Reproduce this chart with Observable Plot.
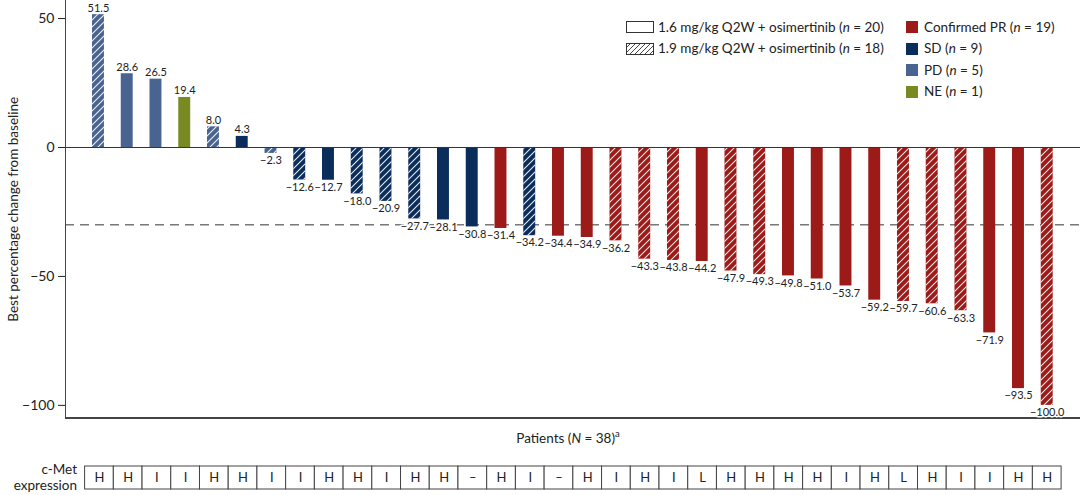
<!DOCTYPE html>
<html><head><meta charset="utf-8">
<script src="https://cdn.jsdelivr.net/npm/d3@7"></script>
<script src="https://cdn.jsdelivr.net/npm/@observablehq/plot@0.6"></script>
<style>
body{margin:0;background:#fff;font-family:Lato,sans-serif;color:#222}
#wrap{position:relative;width:1080px;height:495px;overflow:hidden;background:#fff}
#main{position:absolute;left:0;top:0;width:1080px}
#main svg{display:block}
#table{position:absolute;left:0;top:460.5px;width:1080px}
#table svg{display:block}
#legend{position:absolute;left:0;top:0;width:0;height:0}
.lg{position:absolute;font-size:13.5px;white-space:nowrap;line-height:16px}
.sw{position:absolute;width:12px;height:12px}
#xlab{position:absolute;top:428px;left:568px;transform:translateX(-50%);font-size:13.5px;white-space:nowrap}
#cmet{position:absolute;right:1003px;top:462px;font-size:13.5px;text-align:right;line-height:15.5px;white-space:nowrap}
</style></head><body>
<div id="wrap">
  <div id="main"></div>
  <div id="table"></div>
  <div id="xlab">Patients (<i>N</i> = 38)<sup style="font-size:9.5px">a</sup></div>
  <div id="cmet">c-Met<br>expression</div>
  <div id="legend"></div>
</div>
<script>
// ---- data ----
const values = [51.5, 28.6, 26.5, 19.4, 8.0, 4.3, -2.3, -12.6, -12.7, -18.0, -20.9, -27.7, -28.1, -30.8, -31.4, -34.2, -34.4, -34.9, -36.2, -43.3, -43.8, -44.2, -47.9, -49.3, -49.8, -51.0, -53.7, -59.2, -59.7, -60.6, -63.3, -71.9, -93.5, -100.0];
const responses = ["PD","PD","PD","NE","PD","SD","PD","SD","SD","SD","SD","SD","SD","SD","PR","SD","PR","PR","PR","PR","PR","PR","PR","PR","PR","PR","PR","PR","PR","PR","PR","PR","PR","PR"];
const doses = ["1.9","1.6","1.6","1.6","1.9","1.6","1.9","1.9","1.6","1.9","1.9","1.9","1.6","1.6","1.6","1.9","1.6","1.6","1.9","1.9","1.9","1.6","1.9","1.9","1.6","1.6","1.6","1.6","1.9","1.9","1.9","1.6","1.6","1.9"];
const cMet = ["H","H","I","I","H","H","I","I","H","H","I","H","H","–","H","I","–","H","I","H","I","L","H","H","H","H","I","H","L","H","I","I","H","H"];
const responseKeys = ["PR","SD","PD","NE"];
const responseLabels = ["Confirmed PR","SD","PD","NE"];
const responseCounts = [19, 9, 5, 1];
const responseColors = ["#9c1a17","#0b2d5c","#4a6491","#7a8a22"];
const doseLabels = ["1.6 mg/kg Q2W + osimertinib","1.9 mg/kg Q2W + osimertinib"];
const doseCounts = [20, 18];
const yTicks = [50, 0, -50, -100];
const yDomain = [-104.9, 57];
const threshold = -30;

const patients = d3.range(values.length);
const data = patients.map(i => ({id: i, value: values[i], response: responses[i], dose: doses[i], cmet: cMet[i]}));
const fmt = v => (v < 0 ? "\u2212" : "") + Math.abs(v).toFixed(1);
const xRange = [83.6, 1061.1];

const chart = Plot.plot({
  width: 1080, height: 426,
  marginLeft: 65, marginRight: 0, marginTop: 0, marginBottom: 8.5,
  style: {fontFamily: "Lato, sans-serif", color: "#222", background: "transparent", overflow: "visible"},
  x: {type: "band", domain: patients, range: xRange, paddingInner: 0.585, paddingOuter: 0.2925, round: false, axis: null},
  y: {domain: yDomain, axis: null},
  color: {domain: responseKeys, range: responseColors},
  marks: [
    Plot.ruleY([threshold], {stroke: "#333", strokeWidth: 1, strokeDasharray: "9,6"}),
    Plot.ruleY([yDomain[0]], {stroke: "#444", strokeWidth: 2}),
    Plot.barY(data, {x: "id", y: "value", fill: "response"}),
    Plot.barY(data.filter(d => d.dose === "1.9"), {x: "id", y: "value", fill: "url(#hatch)"}),
    Plot.ruleY([0], {stroke: "#333", strokeWidth: 1}),
    Plot.text(data.filter(d => d.value >= 0), {x: "id", y: "value", text: d => fmt(d.value), lineAnchor: "bottom", dy: -3, fontSize: 11, fill: "#222", stroke: "white", strokeWidth: 3}),
    Plot.text(data.filter(d => d.value < 0), {x: "id", y: "value", text: d => fmt(d.value), lineAnchor: "top", dy: 3, fontSize: 11, fill: "#222", stroke: "white", strokeWidth: 3}),
    Plot.axisY({ticks: yTicks, tickSize: 7, tickPadding: 4, fontSize: 14, tickFormat: d => (d < 0 ? "\u2212" : "") + Math.abs(d),
      label: "Best percentage change from baseline", labelAnchor: "center", labelOffset: 57, labelArrow: "none"}),
    Plot.frame({anchor: "left", stroke: "#444"})
  ]
});
const svgNS = "http://www.w3.org/2000/svg";
const defs = document.createElementNS(svgNS, "defs");
defs.innerHTML = '<pattern id="hatch" patternUnits="userSpaceOnUse" width="7" height="7"><path d="M-1,1 l2,-2 M0,7 l7,-7 M6,8 l2,-2" stroke="#fff" stroke-width="1.1" stroke-opacity="0.9"/></pattern>';
chart.appendChild(defs);
chart.querySelectorAll("text").forEach(t => { if (t.textContent === "Best percentage change from baseline") t.setAttribute("font-size", 13.5); });
document.getElementById("main").appendChild(chart);

const table = Plot.plot({
  width: 1080, height: 33, marginLeft: 0, marginRight: 0, marginTop: 2, marginBottom: 2,
  style: {fontFamily: "Lato, sans-serif", color: "#222", background: "transparent"},
  x: {type: "band", domain: patients, range: [84.6, 1061.1], padding: 0, round: false, axis: null},
  y: {axis: null},
  marks: [
    Plot.cell(data, {x: "id", y: () => "c-Met", fill: "white", stroke: "#444", strokeWidth: 1, inset: 0}),
    Plot.text(data, {x: "id", y: () => "c-Met", text: "cmet", fontSize: 13, fill: "#222"})
  ]
});
document.getElementById("table").appendChild(table);

// legend
const lg = document.getElementById("legend");
const rowY = [27, 48.5, 70, 91.5];
doseLabels.forEach((t, i) => {
  const box = document.createElementNS(svgNS, "svg");
  box.setAttribute("width", 28); box.setAttribute("height", 12);
  box.style.position = "absolute"; box.style.left = "626px"; box.style.top = (rowY[i] - 6) + "px";
  box.innerHTML = (i === 1
    ? '<defs><pattern id="lh" patternUnits="userSpaceOnUse" width="5" height="5"><path d="M-1,1 l2,-2 M0,5 l5,-5 M4,6 l2,-2" stroke="#333" stroke-width="0.9"/></pattern></defs><rect x="0.5" y="0.5" width="27" height="11" fill="url(#lh)" stroke="#333"/>'
    : '<rect x="0.5" y="0.5" width="27" height="11" fill="white" stroke="#333"/>');
  lg.appendChild(box);
  const d = document.createElement("div");
  d.className = "lg"; d.style.left = "658px"; d.style.top = (rowY[i] - 8.5) + "px";
  d.innerHTML = t + " (<i>n</i> = " + doseCounts[i] + ")";
  lg.appendChild(d);
});
responseKeys.forEach((k, i) => {
  const s = document.createElement("div");
  s.className = "sw"; s.style.left = "906px"; s.style.top = (rowY[i] - 6) + "px"; s.style.background = responseColors[i];
  lg.appendChild(s);
  const d = document.createElement("div");
  d.className = "lg"; d.style.left = "924px"; d.style.top = (rowY[i] - 8.5) + "px";
  d.innerHTML = responseLabels[i] + " (<i>n</i> = " + responseCounts[i] + ")";
  lg.appendChild(d);
});
</script>
</body></html>
